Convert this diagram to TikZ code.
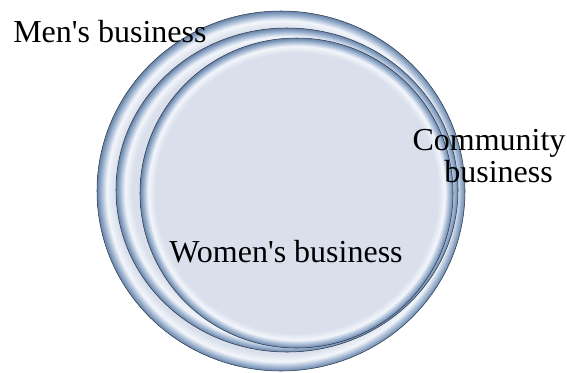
\documentclass[tikz,border=0pt]{standalone}
\usepackage{fontspec}
\setmainfont{Liberation Serif}
\usetikzlibrary{shapes.geometric}
\definecolor{discfill}{HTML}{D9DFEB}
\definecolor{rimlight}{HTML}{F3F6FB}
\definecolor{rimblue}{HTML}{98AFCD}
\definecolor{rimedge}{HTML}{6A84A6}
\definecolor{rimdark}{HTML}{2A3A50}
\pgfdeclareradialshading{discrim}{\pgfpoint{0bp}{0bp}}{%
  color(0bp)=(discfill); color(22.6bp)=(discfill); color(23.7bp)=(rimlight);
  color(24.5bp)=(rimblue); color(25bp)=(rimedge); color(50bp)=(rimedge)}

\begin{document}
\begin{tikzpicture}[x=0.75pt, y=-0.75pt,
    disc/.style={ellipse, shading=discrim, draw=rimdark, line width=0.4pt,
      inner sep=0pt, outer sep=0pt},
    caption/.style={font=\fontsize{24}{24}\selectfont, inner sep=0pt, text=black}]
\useasboundingbox (0,0) rectangle (567,372);

\node[disc, minimum width=276pt, minimum height=270pt] (men) at (281,191) {};
\node[disc, minimum width=256.5pt, minimum height=243pt] (community) at (287,190) {};
\node[disc, minimum width=234.75pt, minimum height=232.5pt] (women) at (296.5,193) {};

\node[caption, anchor=base west] (menlabel) at (13,42) {Men\textquotesingle s business};
\node[caption, anchor=base, align=center] (communitylabel) at (489,182) {Community\\\hspace*{0.6em}business};
\node[caption, anchor=base] (womenlabel) at (286,262) {Women\textquotesingle s business};
\end{tikzpicture}
\end{document}
